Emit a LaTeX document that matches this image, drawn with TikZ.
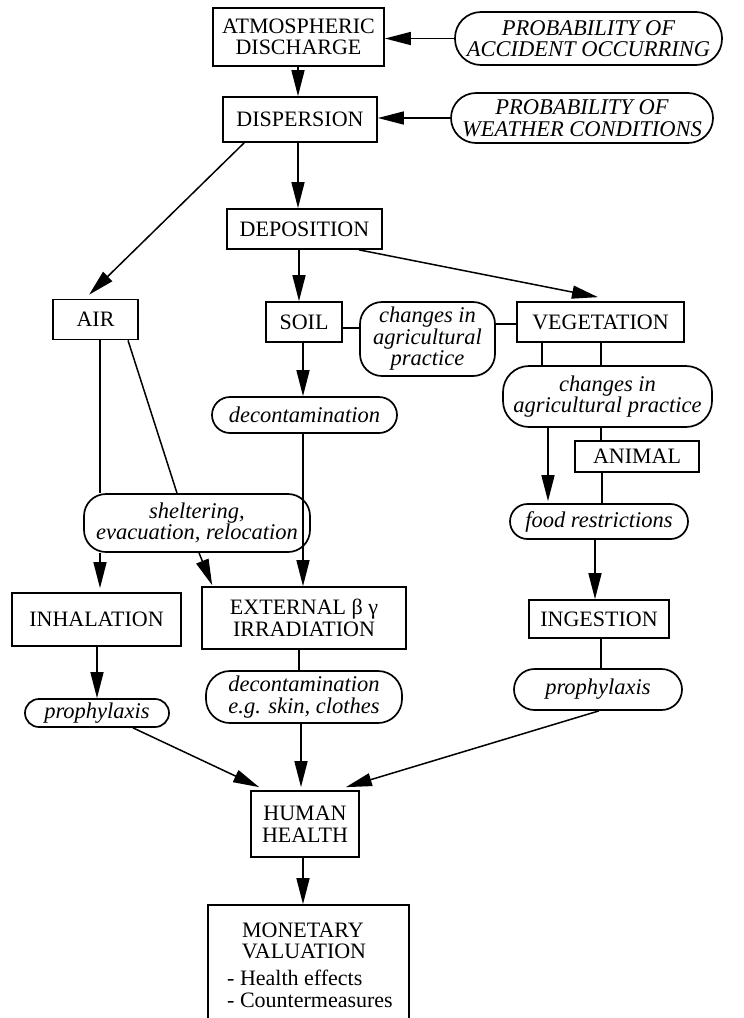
\documentclass[tikz,border=0pt]{standalone}
\usepackage{fontspec}
\setmainfont{Liberation Serif}
\usetikzlibrary{arrows.meta,calc}
\begin{document}
\begin{tikzpicture}[x=1pt,y=-1pt,
  every node/.style={font=\fontsize{22}{21.5}\selectfont, inner sep=0pt},
  box/.style={draw, line width=1.7pt, align=center,
    minimum width=#1},
  pill/.style={draw, line width=1.7pt, align=center,
    font=\fontsize{22.5}{21.5}\selectfont\itshape, rounded corners=#1},
  conn/.style={line width=1.5pt},
  arr/.style={line width=1.5pt, -{Triangle[length=26pt,width=13pt]}},
  lbl/.style={anchor=base}
]
\path[use as bounding box, clip] (0,0) rectangle (744,1018);

% ---- nodes ----
\node[box=171, minimum height=58] (atm) at (298.5,37) {ATMOSPHERIC\\DISCHARGE};
\node[pill=26, minimum width=267, minimum height=53] (pacc) at (588.5,38.5)
  {PROBABILITY OF\\ACCIDENT OCCURRING};
\node[box=154, minimum height=45] (disp) at (300,119.5) {DISPERSION};
\node[pill=25, minimum width=262, minimum height=50] (pwea) at (582,118)
  {PROBABILITY OF\\WEATHER CONDITIONS};
\node[box=155, minimum height=40] (dep) at (304.5,229) {DEPOSITION};
\node[box=85, minimum height=40] (air) at (95.5,319.5) {AIR};
\node[box=76, minimum height=40] (soil) at (304,322) {SOIL};
\node[pill=22, minimum width=135, minimum height=74] (chg1) at (427.5,339)
  {changes in\\agricultural\\practice};
\node[box=167, minimum height=40] (veg) at (600.5,322) {VEGETATION};
\node[pill=26, minimum width=209, minimum height=61] (chg2) at (607.5,396.5)
  {changes in\\agricultural practice};
\node[box=124, minimum height=31] (anim) at (637,456.5) {ANIMAL};
\node[pill=18, minimum width=185, minimum height=36] (dec1) at (304.5,415)
  {decontamination};
\node[pill=17.5, minimum width=178, minimum height=35] (food) at (599,521.5)
  {food restrictions};
\node[pill=22, minimum width=226, minimum height=58] (shel) at (197,523)
  {sheltering,\\evacuation, relocation};
\node[box=169, minimum height=53] (inh) at (96.5,619.5) {INHALATION};
\node[box=204, minimum height=62] (ext) at (304,618) {EXTERNAL β γ\\IRRADIATION};
\node[box=140, minimum height=38] (ing) at (599,619) {INGESTION};
\node[pill=14, minimum width=144, minimum height=28] (pro1) at (97,713) {prophylaxis};
\node[pill=24, minimum width=196, minimum height=52] (dec2) at (304,697)
  {decontamination\\e.g. skin, clothes};
\node[pill=20.5, minimum width=168, minimum height=41] (pro2) at (598,689.5) {prophylaxis};
\node[box=108, minimum height=66] (hum) at (305,824) {HUMAN\\HEALTH};
\node[box=201, minimum height=140] (mon) at (308.5,975) {};
\node[lbl] (mon1) at (303,937) {MONETARY};
\node[lbl] (mon2) at (304,958) {VALUATION};
\node[lbl, anchor=base west] (mon3) at (227,985) {- Health effects};
\node[lbl, anchor=base west] (mon4) at (227,1007) {- Countermeasures};

% ---- connectors ----
\draw[arr] (pacc.west) -- (pacc.west -| atm.east);
\draw[arr] ($(atm.south)+(-0.5,0)$) -- ($(disp.north)+(-2,0)$);
\draw[arr] (pwea.west) -- (pwea.west -| disp.east);
\draw[arr] ($(disp.south west)+(22,0)$) -- ($(air.north west)+(37,-4)$);
\draw[arr] ($(disp.south)+(-2,0)$) -- ($(dep.north)+(-6.5,0)$);
\draw[arr] ($(dep.south)+(-5.5,0)$) -- ($(soil.north)+(-5,0)$);
\draw[arr] ($(dep.south)+(54.5,0)$) -- ($(veg.north)+(-2.5,-4)$);
\draw[conn] ($(soil.east)+(0,6)$) -- ($(chg1.west)+(0,-11)$);
\draw[conn] ($(chg1.east)+(0,-15)$) -- ($(veg.west)+(0,2)$);
\draw[conn] ($(veg.south)+(-58.5,0)$) -- ($(chg2.north)+(-65.5,0)$);
\draw[conn] ($(veg.south)+(0.5,0)$) -- ($(chg2.north)+(-6.5,0)$);
\draw[arr] ($(chg2.south)+(-59.5,0)$) -- ($(food.north)+(-51,-2)$);
\draw[conn] ($(chg2.south)+(-6.5,0)$) -- ($(anim.north)+(-36,0)$);
\draw[conn] ($(anim.south)+(-35,0)$) -- ($(food.north)+(3,0)$);
\draw[arr] ($(food.south)+(-4,0)$) -- ($(ing.north)+(-4,0)$);
\draw[conn] ($(ing.south)+(2,0)$) -- ($(pro2.north)+(3,0)$);
\draw[arr] ($(pro2.south)+(1,0)$) -- ($(hum.north east)+(-14,-3)$);
\draw[arr] ($(soil.south)+(-1,0)$) -- ($(dec1.north)+(-1.5,0)$);
\draw[arr] ($(dec1.south)+(-1.5,0)$) -- ($(ext.north)+(-1,0)$);
\draw[conn] ($(air.south)+(4.5,0)$) -- ($(shel.north)+(-97,0)$);
\draw[conn] ($(air.south)+(32.5,0)$) -- ($(shel.north)+(-20,0)$);
\draw[arr] ($(shel.south)+(-97,0)$) -- ($(inh.north)+(3.5,-4)$);
\draw[arr] ($(shel.south)+(2,0)$) -- ($(ext.north west)+(11,-1)$);
\draw[arr] ($(inh.south)+(0.5,0)$) -- (pro1.north);
\draw[conn] ($(ext.south)+(-5,0)$) -- ($(dec2.north)+(-5,0)$);
\draw[arr] ($(dec2.south)+(-3,0)$) -- ($(hum.north)+(-4,-3)$);
\draw[arr] ($(pro1.south)+(36,0)$) -- ($(hum.north west)+(9,-3)$);
\draw[arr] ($(hum.south)+(-2,0)$) -- ($(mon.north)+(-5.5,0)$);
\end{tikzpicture}
\end{document}
